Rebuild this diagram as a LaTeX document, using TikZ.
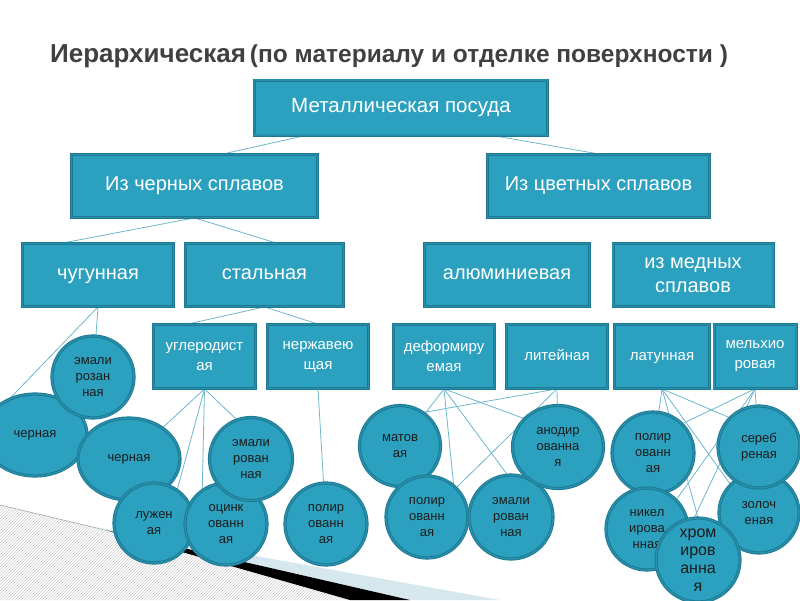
\documentclass[tikz,border=0pt]{standalone}
\usepackage{fontspec}
\setmainfont{Liberation Sans}
\usetikzlibrary{shapes.geometric,patterns,backgrounds}
\definecolor{tealfill}{HTML}{2CA1BF}
\definecolor{tealedge}{HTML}{1E7891}
\definecolor{tealmid}{HTML}{2690AD}
\definecolor{linkc}{HTML}{6DB6CD}
\definecolor{titlec}{HTML}{404040}
\definecolor{darktext}{HTML}{1C1C1C}
\definecolor{decoblue}{HTML}{D6E7EE}
\tikzset{
 box/.style={rectangle, fill=tealfill, draw=tealedge, line width=0.8pt, double=tealmid, double distance=1.4pt, text=white, align=center, inner sep=0pt},
 bigbox/.style={box, font=\fontsize{20}{24}\selectfont, minimum height=63pt},
 smallbox/.style={box, font=\fontsize{15}{20}\selectfont, minimum height=64pt},
 bub/.style={circle, fill=tealfill, draw=tealedge, line width=0.9pt, double=tealmid, double distance=1.4pt, text=darktext, align=center, inner sep=0pt, font=\fontsize{13}{16}\selectfont},
 ebub/.style={bub, ellipse},
 link/.style={draw=linkc, line width=0.8pt},
}
\begin{document}
\begin{tikzpicture}[x=1pt,y=-1pt]
\useasboundingbox (0,0) rectangle (800,600);
% background decoration
\fill[pattern=north east lines, pattern color=gray!40] (0,505) -- (105,530) -- (350,600) -- (0,600) -- cycle;
\draw[gray!70, line width=0.6pt] (0,505) -- (105,530);
\fill[decoblue] (95,527) -- (500,600) -- (410,600) -- (105,530) -- cycle;
\fill[black] (105,530) -- (410,600) -- (350,600) -- cycle;

% title
\node[anchor=base west, text=titlec, font=\bfseries, inner sep=0pt] (title) at (50,62)
  {{\fontsize{26}{30}\selectfont Иерархическая}\hspace{4pt}{\fontsize{24.5}{28}\selectfont (по материалу и отделке поверхности )}};

% boxes
\node[bigbox, minimum width=293pt, minimum height=55pt, font=\fontsize{20.5}{24}\selectfont] (m) at (401,107.5) {Металлическая посуда};
\node[bigbox, minimum width=246pt] (b1) at (194.5,186) {Из черных сплавов};
\node[bigbox, minimum width=222pt] (b2) at (598.5,186) {Из цветных сплавов};
\node[bigbox, minimum width=151pt] (c1) at (98,275) {\strut чугунная};
\node[bigbox, minimum width=158pt] (c2) at (264.5,275) {\strut стальная};
\node[bigbox, minimum width=165pt] (c3) at (507,275) {\strut алюминиевая};
\node[bigbox, minimum width=160pt] (c4) at (693,275) {из медных\\сплавов};
\node[smallbox, minimum width=102pt] (d1) at (204.5,356.5) {углеродист\\ая};
\node[smallbox, minimum width=101pt] (d2) at (318,356.5) {нержавею\\щая};
\node[smallbox, minimum width=101pt] (d3) at (444,356.5) {деформиру\\емая};
\node[smallbox, minimum width=101pt] (d4) at (557,356.5) {\strut литейная};
\node[smallbox, minimum width=95pt] (d5) at (662,356.5) {\strut латунная};
\node[smallbox, minimum width=82pt] (d6) at (755,356.5) {мельхио\\ровая};

% circles
\node[ebub, minimum width=104pt, minimum height=82pt] (k1) at (35,435) {черная};
\node[bub, minimum size=82pt] (e1) at (93,377) {эмали\\розан\\ная};
\node[ebub, minimum width=102pt, minimum height=82pt] (k2) at (129,459) {черная};
\node[bub, minimum size=80pt] (e2) at (154,523) {лужен\\ая};
\node[bub, minimum size=82pt] (e3) at (226,524) {оцинк\\ованн\\ая};
\node[bub, minimum size=83pt] (e4) at (251,459) {эмали\\рован\\ная};
\node[bub, minimum size=82pt] (e5) at (326,524) {полир\\ованн\\ая};
\node[bub, minimum size=81pt] (f1) at (400,446) {матов\\ая};
\node[bub, minimum size=82pt] (f2) at (427,517) {полир\\ованн\\ая};
\node[bub, minimum size=84pt] (f3) at (511,517) {эмали\\рован\\ная};
\node[ebub, minimum width=91pt, minimum height=83pt] (f4) at (558,447) {анодир\\ованна\\я};
\node[bub, minimum size=82pt] (g1) at (653,453) {полир\\ованн\\ая};
\node[bub, minimum size=80pt] (g4) at (759,513) {золоч\\еная};
\node[bub, minimum size=82pt] (g2) at (759,447) {сереб\\реная};
\node[bub, minimum size=82pt] (g3) at (647,529) {никел\\ирова\\нная};
\node[bub, minimum size=84pt, font=\fontsize{16}{18}\selectfont] (g5) at (698,560) {хром\\иров\\анна\\я};

% connectors (behind everything)
\begin{scope}[on background layer]
\draw[link] ([xshift=-95pt]m.south) -- ([xshift=28pt]b1.north);
\draw[link] ([xshift=91pt]m.south) -- ([xshift=1pt]b2.north);
\draw[link] (b1.south) -- ([xshift=-36pt]c1.north);
\draw[link] (b1.south) -- ([xshift=12pt]c2.north);
\draw[link] (c1.south) -- (k1.125);
\draw[link] (c1.south) -- (e1);
\draw[link] (c2.south) -- ([xshift=-17pt]d1.north);
\draw[link] (c2.south) -- (d2.north);
\draw[link] (d1.south) -- (k2);
\draw[link] (d1.south) -- (e2.55);
\draw[link] (d1.south) -- (e3.125);
\draw[link] (d1.south) -- (e4.110);
\draw[link] (d2.south) -- (e5);
\draw[link] (d3.south) -- (f1);
\draw[link] (d3.south) -- (f2.50);
\draw[link] (d3.south) -- (f3.95);
\draw[link] (d3.south) -- (f4.140);
\draw[link] (d4.south) -- (f1.55);
\draw[link] (d4.south) -- (f2.45);
\draw[link] (d4.south) -- (f4);
\draw[link] (d5.south) -- (g1);
\draw[link] (d5.south) -- (g2.135);
\draw[link] (d5.south) -- (g5.north);
\draw[link] (d5.south) -- (g4.135);
\draw[link] (d6.south) -- (g1.45);
\draw[link] (d6.south) -- (g2);
\draw[link] (d6.south) -- (g3.45);
\draw[link] (d6.south) -- (g5.95);
\end{scope}
\end{tikzpicture}
\end{document}
